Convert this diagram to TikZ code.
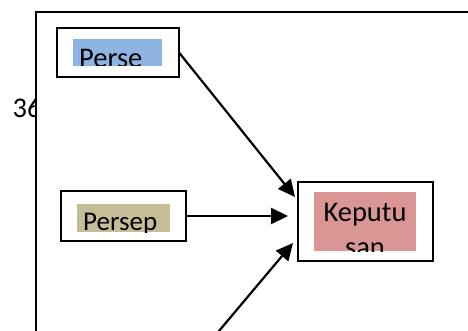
\documentclass[tikz,border=0pt]{standalone}
\usepackage{fontspec}
\setmainfont{Carlito}
\usetikzlibrary{arrows.meta}
\definecolor{blu}{RGB}{141,180,226}
\definecolor{tanc}{RGB}{196,189,151}
\definecolor{pnk}{RGB}{217,150,148}
\tikzset{
  boxf/.style={draw,line width=1.7pt,inner sep=0pt,outer sep=0pt,anchor=north west},
  txt/.style={inner sep=0pt,font=\fontsize{28.5}{34}\selectfont},
  arr/.style={line width=2.2pt,-{Triangle[length=17pt,width=16pt]}}
}
\begin{document}
\begin{tikzpicture}[x=1pt,y=-1pt]
\useasboundingbox (0,0) rectangle (468,331);
\clip (0,0) rectangle (468,331);
% page number, cut by the frame
\begin{scope}
\clip (0,0) rectangle (36,331);
\node[txt,anchor=base west] (num) at (12.5,118) {36};
\end{scope}
% outer frame
\draw[line width=1.6pt] (36,335) -- (36,12) -- (472,12);
% box 1
\node[boxf,minimum width=122pt,minimum height=49pt] (b1) at (57,28) {};
\fill[blu] (73,39) rectangle (162,66);
\begin{scope}
\clip (73,39) rectangle (162,66);
\node[txt,anchor=base west] (t1) at (79,67.5) {Perse};
\end{scope}
% box 2
\node[boxf,minimum width=125pt,minimum height=50pt] (b2) at (61,191) {};
\fill[tanc] (77,204) rectangle (170,232);
\begin{scope}
\clip (77,204) rectangle (170,232);
\node[txt,anchor=base west,font=\fontsize{27}{32}\selectfont] (t2) at (83,230.5) {Persep};
\end{scope}
% box 3
\node[boxf,minimum width=135pt,minimum height=79pt] (b3) at (298,182) {};
\fill[pnk] (314,192) rectangle (416,251);
\begin{scope}
\clip (314,192) rectangle (416,251);
\node[txt,anchor=base] (t3a) at (365,221.5) {Keputu};
\node[txt,anchor=base] (t3b) at (365,256) {san};
\end{scope}
% arrows
\coordinate (c3) at (215.6,335);
\draw[arr] (b1.east) -- ([shift={(-3,15)}]b3.north west);
\draw[arr] (b2.east) -- ([xshift=-10pt]b3.west |- b2.east);
\draw[arr] (c3) -- ([shift={(-5,-18)}]b3.south west);
\end{tikzpicture}
\end{document}
